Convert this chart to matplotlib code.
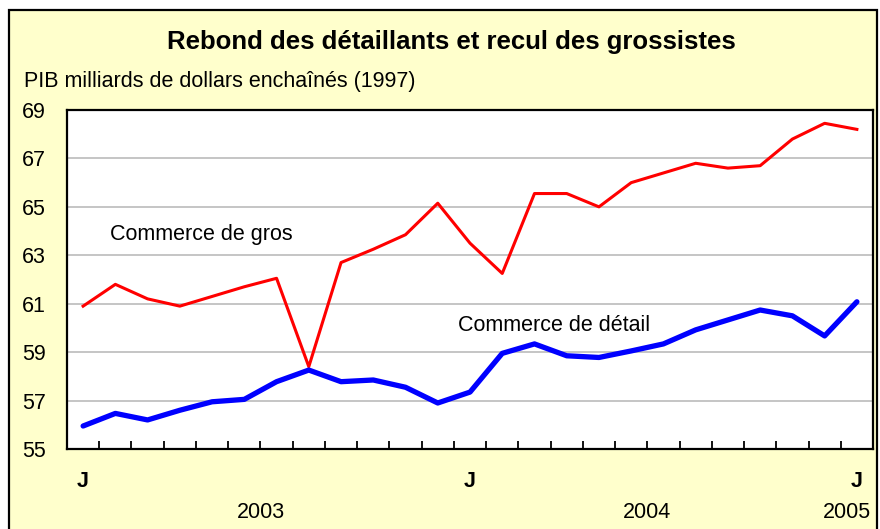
import matplotlib
matplotlib.use("Agg")
import matplotlib.pyplot as plt
from matplotlib.patches import Rectangle

plt.rcParams['font.family'] = ['Liberation Sans', 'DejaVu Sans']

# Données mensuelles, janvier 2003 à janvier 2005
mois = list(range(25))
gros = [60.9, 61.8, 61.2, 60.9, 61.3, 61.7, 62.05, 58.4, 62.7, 63.25, 63.85, 65.15,
        63.5, 62.25, 65.55, 65.55, 65.0, 66.0, 66.4, 66.8, 66.6, 66.7, 67.8, 68.45, 68.2]
detail = [55.95, 56.47, 56.2, 56.6, 56.95, 57.05, 57.78, 58.26, 57.78, 57.85, 57.55, 56.9,
          57.35, 58.95, 59.34, 58.85, 58.78, 59.05, 59.34, 59.92, 60.33, 60.74, 60.5, 59.67, 61.08]
y_ticks = [55, 57, 59, 61, 63, 65, 67, 69]
j_pos = [0, 12, 24]
annees = ['2003', '2004', '2005']
annee_pos = [5.5, 17.5, 23.7]

W, H = 880, 529
fig = plt.figure(figsize=(W / 100, H / 100), dpi=100)
fig.patch.set_facecolor('white')

# cadre jaune
fig.patches.append(Rectangle((9 / W, -0.05), 868 / W, 1 - 10 / H + 0.05,
                             transform=fig.transFigure, facecolor='#FFFFCC',
                             edgecolor='black', linewidth=1.6, zorder=-5))

ax = fig.add_axes([67 / W, (H - 449) / H, (873 - 67) / W, (449 - 110) / H])
ax.set_zorder(2)
ax.set_facecolor('white')

ax.plot(mois, gros, color='#FF0000', linewidth=2.2, zorder=3)
ax.plot(mois, detail, color='#0000FF', linewidth=3.8, zorder=3, solid_capstyle='round')

ax.set_xlim(-0.5, 24.5)
ax.set_ylim(55, 69)
ax.set_yticks(y_ticks)
ax.yaxis.grid(True, color='#C0C0C0', linewidth=1.3)
ax.set_axisbelow(True)
ax.tick_params(axis='y', length=0, pad=15, labelsize=15.5)

ax.set_xticks([m + 0.5 for m in mois[:-1]])
ax.set_xticklabels([])
ax.tick_params(axis='x', direction='in', length=6, width=1.3)

for s in ax.spines.values():
    s.set_linewidth(1.6)
    s.set_color('black')

ax.text(0.83, 63.84, 'Commerce de gros', fontsize=15.5, va='center', ha='left')
ax.text(11.63, 60.12, 'Commerce de détail', fontsize=15.5, va='center', ha='left')

tr = ax.get_xaxis_transform()
for p in j_pos:
    ax.text(p, -0.097, 'J', transform=tr, ha='center', va='center',
            fontsize=15.5, fontweight='bold')
for a, p in zip(annees, annee_pos):
    ax.text(p, -0.186, a, transform=tr, ha='center', va='center', fontsize=15.5)

fig.text(451 / W, 1 - 42 / H, 'Rebond des détaillants et recul des grossistes',
         ha='center', va='center', fontsize=18.5, fontweight='bold')
fig.text(24 / W, 1 - 82 / H, 'PIB milliards de dollars enchaînés (1997)',
         ha='left', va='center', fontsize=15.5)

fig.savefig('out.png', dpi=100)
